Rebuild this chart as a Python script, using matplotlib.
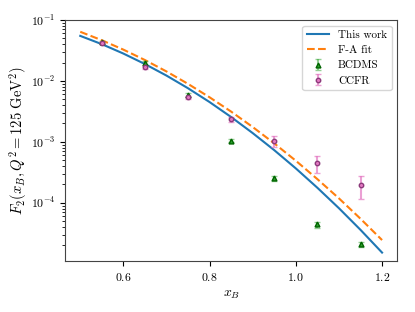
import numpy as np
import matplotlib
matplotlib.use('Agg')
import matplotlib.pyplot as plt

# LaTeX風のフォント
plt.rcParams['font.family'] = 'serif'
plt.rcParams['font.serif'] = ['cmr10']
plt.rcParams['mathtext.fontset'] = 'cm'
plt.rcParams['axes.unicode_minus'] = False
plt.rcParams['axes.formatter.use_mathtext'] = True

# === 曲線データ ===
x_line = [0.5, 0.55, 0.6, 0.65, 0.7, 0.75, 0.8, 0.85, 0.9, 0.95, 1.0, 1.05, 1.1, 1.15, 1.2]
f2_this_work = [0.0548, 0.0401, 0.0281, 0.0189, 0.01222, 0.00757, 0.00449, 0.00255,
                0.00139, 7.29e-4, 3.66e-4, 1.76e-4, 8.13e-5, 3.59e-5, 1.52e-5]
f2_fa_fit = [0.0640, 0.0465, 0.0326, 0.0220, 0.01429, 0.00893, 0.00538, 0.00313,
             0.00175, 9.42e-4, 4.89e-4, 2.44e-4, 1.18e-4, 5.46e-5, 2.44e-5]

# === 実験データ ===
x_data = [0.55, 0.65, 0.75, 0.85, 0.95, 1.05, 1.15]
bcdms = [0.044, 0.0195, 0.0059, 1.04e-3, 2.5e-4, 4.4e-5, 2.1e-5]
bcdms_err = [2e-3, 1.5e-3, 5e-4, 6e-5, 2e-5, 5e-6, 2e-6]
ccfr = [0.042, 0.0167, 0.0054, 2.35e-3, 1.03e-3, 4.5e-4, 1.95e-4]
ccfr_err = [1.5e-3, 8e-4, 3e-4, 2.2e-4, 2e-4, 1.4e-4, 7.8e-5]

fig, ax = plt.subplots(figsize=(4.15, 3.12), dpi=100)
fig.subplots_adjust(left=0.157, right=0.957, top=0.936, bottom=0.163)

ax.plot(x_line, f2_this_work, color='tab:blue', lw=1.5, label='This work')
ax.plot(x_line, f2_fa_fit, color='tab:orange', lw=1.5, ls='--', label='F-A fit')
ax.errorbar(x_data, bcdms, yerr=bcdms_err, fmt='^', ms=3.5, color='tab:green',
            mec='darkgreen', ecolor=(0.17, 0.63, 0.17, 0.5), capsize=2, label='BCDMS')
ax.errorbar(x_data, ccfr, yerr=ccfr_err, fmt='o', ms=3.2, color='tab:pink',
            mec='#8b3a7a', ecolor=(0.89, 0.47, 0.76, 0.7), capsize=2, label='CCFR')

ax.set_yscale('log')
ax.set_ylim(1.1e-5, 1e-1)
ax.set_xticks([0.6, 0.8, 1.0, 1.2])
ax.tick_params(labelsize=8.5)
for s in ax.spines.values():
    s.set_color('#444444')

ax.set_xlabel(r'$x_B$', fontsize=10)
ax.set_ylabel(r'$F_2(x_B, Q^2 = 125\ \mathrm{GeV}^2)$', fontsize=10.5, labelpad=1)
ax.legend(loc='upper right', fontsize=8)

plt.savefig('out.png', dpi=100)
